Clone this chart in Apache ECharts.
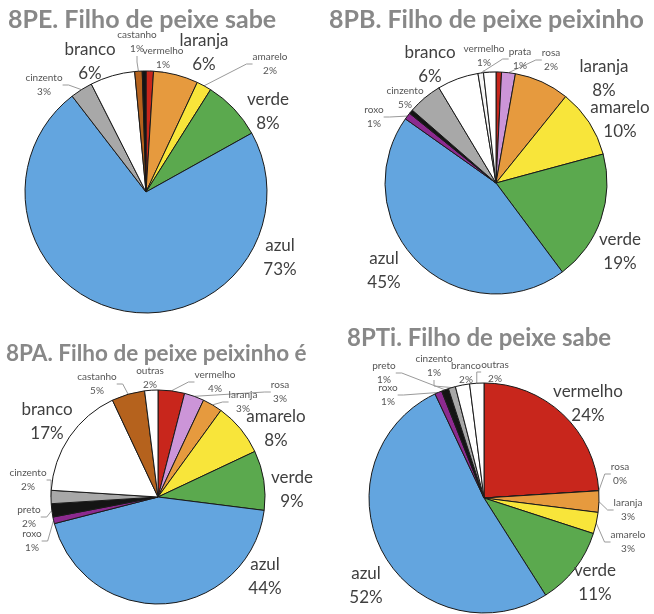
<!DOCTYPE html>
<html>
<head>
<meta charset="utf-8">
<script src="https://cdn.jsdelivr.net/npm/echarts@6/dist/echarts.min.js"></script>
<style>
html,body{margin:0;padding:0;background:#fff;}
#main{width:654px;height:614px;}
</style>
</head>
<body>
<div id="main"></div>
<script>
// ---- data ----
const titles = [
  '8PE. Filho de peixe sabe',
  '8PB. Filho de peixe peixinho',
  '8PA. Filho de peixe peixinho é',
  '8PTi. Filho de peixe sabe'
];
const names1 = ['vermelho','laranja','amarelo','verde','azul','cinzento','branco','castanho','preto'];
const values1 = [1, 6, 2, 8, 73, 3, 6, 1, 0.5];

const names2 = ['vermelho','rosa','laranja','amarelo','verde','azul','roxo','preto','cinzento','branco','prata','outras'];
const values2 = [0.8, 2, 8, 10, 19, 45, 1, 0.6, 5, 6, 0.8, 1.8];

const names3 = ['vermelho','rosa','laranja','amarelo','verde','azul','roxo','preto','cinzento','branco','castanho','outras'];
const values3 = [4, 3, 3, 8, 9, 44, 1, 2, 2, 17, 5, 2];

const names4 = ['vermelho','rosa','laranja','amarelo','verde','azul','roxo','preto','cinzento','branco','outras'];
const values4 = [24, 0, 3, 3, 11, 52, 1, 1, 1, 2, 2];

// labels hidden / large per chart
const hidden = [['preto'], ['preto','outras'], [], []];
const large = [
  ['branco','laranja','verde','azul'],
  ['branco','laranja','amarelo','verde','azul'],
  ['branco','amarelo','verde','azul'],
  ['vermelho','verde','azul']
];

// ---- styles & layout ----
const colors = {
  vermelho:'#c8261c', laranja:'#e69a3e', amarelo:'#f8e53a', verde:'#5ba94e',
  azul:'#63a5df', cinzento:'#a8a8a8', branco:'#ffffff', castanho:'#b5621d',
  preto:'#141414', roxo:'#8c2a8f', rosa:'#cc95d8', prata:'#f6f6f6', outras:'#ffffff'
};
const layouts = [
  {center:[146,192], r:121},
  {center:[496,183], r:111},
  {center:[158,497], r:107},
  {center:[484,498], r:115}
];
const titlePos = [
  {left:3, top:2, size:25},
  {left:324, top:2, size:25},
  {left:1, top:337, size:22.5},
  {left:342, top:321, size:24}
];
// label text-block centres (page pixels)
const labelPos = [
  {castanho:[137,42], vermelho:[163,58], laranja:[204,53], amarelo:[270,64], verde:[268,112],
   azul:[280,258], branco:[90,62], cinzento:[44,85]},
  {branco:[430,65], vermelho:[484,56], prata:[520,59], rosa:[551,60], laranja:[604,79],
   amarelo:[620,120], verde:[620,252], azul:[384,271], cinzento:[405,98], roxo:[374,117]},
  {castanho:[97,384], outras:[150,378], vermelho:[215,382], rosa:[280,392], laranja:[243,402],
   amarelo:[276,429], verde:[292,490], azul:[265,577], branco:[47,422], cinzento:[28,480],
   preto:[29,517], roxo:[32,541]},
  {preto:[384,373], roxo:[388,395], cinzento:[434,366], branco:[466,373], outras:[495,372],
   vermelho:[588,404], rosa:[620,474], laranja:[628,510], amarelo:[628,542], verde:[595,583],
   azul:[366,586]}
];
const FONT = 'Lato, "Open Sans", sans-serif';

function buildData(names, values, idx){
  return names.map((n,i)=>{
    const isHidden = hidden[idx].indexOf(n) >= 0;
    const isLarge = large[idx].indexOf(n) >= 0;
    return {
      name:n, value:values[i],
      itemStyle:{color:colors[n]},
      label:{
        show:!isHidden,
        fontSize: isLarge ? 17 : 10,
        lineHeight: isLarge ? 24 : 14,
        color: isLarge ? '#3f3f3f' : '#555555',
        align:'center'
      },
      labelLine:{
        show: !isLarge && !isHidden,
        length: 6,
        length2: 6,
        lineStyle:{color:'#9a9a9a', width:1}
      }
    };
  });
}

const sets = [[names1,values1],[names2,values2],[names3,values3],[names4,values4]];

const option = {
  backgroundColor:'#fff',
  animation:false,
  title: titles.map((t,i)=>({
    text:t, left:titlePos[i].left, top:titlePos[i].top,
    textStyle:{fontFamily:FONT, fontWeight:'bold', fontSize:titlePos[i].size, color:'#888888'}
  })),
  series: sets.map((s,i)=>({
    type:'pie',
    center:layouts[i].center,
    radius:[0, layouts[i].r],
    startAngle:90,
    clockwise:true,
    avoidLabelOverlap:false,
    stillShowZeroSum:true,
    minShowLabelAngle:0,
    itemStyle:{borderColor:'#1a1a1a', borderWidth:1},
    label:{
      position:'outside', fontFamily:FONT, overflow:'none',
      formatter:(p)=> p.name + '\n' + Math.round(p.percent) + '%'
    },
    labelLayout:function(params){
      const n = s[0][params.dataIndex];
      const p = labelPos[i][n];
      if(!p) return {};
      return {x:p[0], y:p[1], align:'center', verticalAlign:'middle'};
    },
    emphasis:{disabled:true},
    data: buildData(s[0], s[1], i)
  }))
};

const chart = echarts.init(document.getElementById('main'), null, {renderer:'canvas'});
chart.setOption(option);
</script>
</body>
</html>
